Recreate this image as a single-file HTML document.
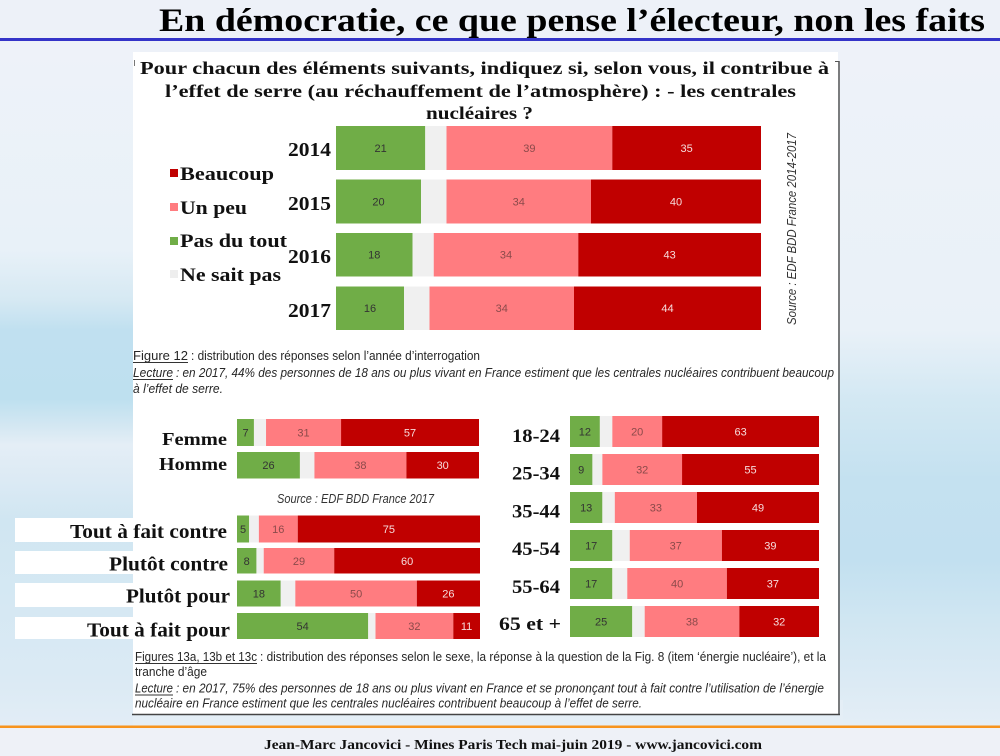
<!DOCTYPE html>
<html>
<head>
<meta charset="utf-8">
<style>
html,body{margin:0;padding:0;width:1000px;height:756px;overflow:hidden;background:#edf1f8}
svg{display:block}
.s{font-family:"Liberation Serif",serif;font-weight:bold;fill:#111}
.c{font-family:"Liberation Sans",sans-serif;fill:#262626}
.i{font-style:italic}
.n{font-family:"Liberation Sans",sans-serif;font-size:11px;text-anchor:middle}
.g{fill:#333}.p{fill:#8b4a4a}.r{fill:#f6dcdc}
</style>
</head>
<body>
<svg width="1000" height="756" viewBox="0 0 1000 756" xmlns="http://www.w3.org/2000/svg">
<defs>
<linearGradient id="lg" gradientUnits="userSpaceOnUse" x1="0" y1="42" x2="0" y2="726">
<stop offset="0" stop-color="#eef2f9"/>
<stop offset="0.304" stop-color="#e8f1f8"/>
<stop offset="0.377" stop-color="#d6e9f3"/>
<stop offset="0.421" stop-color="#c0e0f0"/>
<stop offset="0.523" stop-color="#bee0ef"/>
<stop offset="0.56" stop-color="#d3e7f2"/>
<stop offset="0.589" stop-color="#e4eef6"/>
<stop offset="0.64" stop-color="#dceaf4"/>
<stop offset="0.699" stop-color="#d0e6f2"/>
<stop offset="0.816" stop-color="#d5e8f3"/>
<stop offset="0.933" stop-color="#dbeaf4"/>
<stop offset="1" stop-color="#e2edf6"/>
</linearGradient>
<linearGradient id="rg" gradientUnits="userSpaceOnUse" x1="0" y1="42" x2="0" y2="726">
<stop offset="0" stop-color="#eef2f9"/>
<stop offset="0.421" stop-color="#e9f1f8"/>
<stop offset="0.523" stop-color="#d3e8f3"/>
<stop offset="0.64" stop-color="#c4e1f0"/>
<stop offset="0.757" stop-color="#c2e0f0"/>
<stop offset="0.845" stop-color="#d0e6f2"/>
<stop offset="0.933" stop-color="#dbeaf4"/>
<stop offset="1" stop-color="#e4eef6"/>
</linearGradient>
</defs>

<!-- background -->
<rect x="0" y="0" width="1000" height="756" fill="#edf1f8"/>
<rect x="0" y="42" width="140" height="684" fill="url(#lg)"/>
<rect x="830" y="42" width="170" height="684" fill="url(#rg)"/>
<rect x="133" y="700" width="710" height="26" fill="#e4eef6"/>

<!-- header -->
<text class="s" x="159" y="31" font-size="33" textLength="826" lengthAdjust="spacingAndGlyphs" style="fill:#000">En démocratie, ce que pense l’électeur, non les faits</text>
<rect x="0" y="38" width="1000" height="3" fill="#3434c8"/>

<!-- white panel -->
<rect x="133" y="52" width="705" height="662" fill="#ffffff"/>
<line x1="839" y1="61" x2="839" y2="715" stroke="#555" stroke-width="1.5"/>
<line x1="835" y1="61.5" x2="839.5" y2="61.5" stroke="#555" stroke-width="1"/>
<line x1="132" y1="714.5" x2="840" y2="714.5" stroke="#444" stroke-width="1.6"/>
<line x1="134.5" y1="60" x2="134.5" y2="66" stroke="#777" stroke-width="1"/>

<!-- question -->
<text class="s" x="140" y="74" font-size="18" textLength="689" lengthAdjust="spacingAndGlyphs">Pour chacun des éléments suivants, indiquez si, selon vous, il contribue à</text>
<text class="s" x="165" y="97" font-size="18" textLength="631" lengthAdjust="spacingAndGlyphs">l’effet de serre (au réchauffement de l’atmosphère) : - les centrales</text>
<text class="s" x="426" y="119" font-size="18" textLength="107" lengthAdjust="spacingAndGlyphs">nucléaires ?</text>

<!-- legend -->
<rect x="170" y="169" width="8" height="8" fill="#c00000"/>
<text class="s" x="180" y="180" font-size="19" textLength="94" lengthAdjust="spacingAndGlyphs">Beaucoup</text>
<rect x="170" y="203" width="8" height="8" fill="#ff7c80"/>
<text class="s" x="180" y="214" font-size="19" textLength="67" lengthAdjust="spacingAndGlyphs">Un peu</text>
<rect x="170" y="237" width="8" height="8" fill="#70ad47"/>
<text class="s" x="180" y="247" font-size="19" textLength="107" lengthAdjust="spacingAndGlyphs">Pas du tout</text>
<rect x="170" y="270" width="8" height="8" fill="#eeeeee"/>
<text class="s" x="180" y="281" font-size="19" textLength="101" lengthAdjust="spacingAndGlyphs">Ne sait pas</text>

<!-- years -->
<text class="s" x="288" y="156" font-size="20" textLength="43" lengthAdjust="spacingAndGlyphs">2014</text>
<text class="s" x="288" y="210" font-size="20" textLength="43" lengthAdjust="spacingAndGlyphs">2015</text>
<text class="s" x="288" y="263" font-size="20" textLength="43" lengthAdjust="spacingAndGlyphs">2016</text>
<text class="s" x="288" y="317" font-size="20" textLength="43" lengthAdjust="spacingAndGlyphs">2017</text>

<!-- top bars -->
<g>
<rect x="336" y="126" width="89.25" height="44" fill="#70ad47"/>
<rect x="425.25" y="126" width="21.25" height="44" fill="#f0f0f0"/>
<rect x="446.5" y="126" width="165.75" height="44" fill="#ff7c80"/>
<rect x="612.25" y="126" width="148.75" height="44" fill="#c00000"/>
<text class="n g" x="380.6" y="152">21</text>
<text class="n p" x="529.4" y="152">39</text>
<text class="n r" x="686.6" y="152">35</text>

<rect x="336" y="179.5" width="85" height="44" fill="#70ad47"/>
<rect x="421" y="179.5" width="25.5" height="44" fill="#f0f0f0"/>
<rect x="446.5" y="179.5" width="144.5" height="44" fill="#ff7c80"/>
<rect x="591" y="179.5" width="170" height="44" fill="#c00000"/>
<text class="n g" x="378.5" y="205.5">20</text>
<text class="n p" x="518.75" y="205.5">34</text>
<text class="n r" x="676" y="205.5">40</text>

<rect x="336" y="233" width="76.5" height="43.5" fill="#70ad47"/>
<rect x="412.5" y="233" width="21.25" height="43.5" fill="#f0f0f0"/>
<rect x="433.75" y="233" width="144.5" height="43.5" fill="#ff7c80"/>
<rect x="578.25" y="233" width="182.75" height="43.5" fill="#c00000"/>
<text class="n g" x="374.25" y="258.5">18</text>
<text class="n p" x="506" y="258.5">34</text>
<text class="n r" x="669.6" y="258.5">43</text>

<rect x="336" y="286.5" width="68" height="43.5" fill="#70ad47"/>
<rect x="404" y="286.5" width="25.5" height="43.5" fill="#f0f0f0"/>
<rect x="429.5" y="286.5" width="144.5" height="43.5" fill="#ff7c80"/>
<rect x="574" y="286.5" width="187" height="43.5" fill="#c00000"/>
<text class="n g" x="370" y="312">16</text>
<text class="n p" x="501.75" y="312">34</text>
<text class="n r" x="667.5" y="312">44</text>
</g>

<!-- vertical source -->
<text class="c i" transform="translate(796,325) rotate(-90)" x="0" y="0" font-size="12.5" textLength="192" lengthAdjust="spacingAndGlyphs" style="fill:#333">Source : EDF BDD France 2014-2017</text>

<!-- Fig 12 caption -->
<text class="c" x="133" y="360" font-size="13" textLength="55" lengthAdjust="spacingAndGlyphs">Figure 12</text>
<line x1="133" y1="362.5" x2="188" y2="362.5" stroke="#333" stroke-width="0.9"/>
<text class="c" x="191" y="360" font-size="13" textLength="289" lengthAdjust="spacingAndGlyphs">: distribution des réponses selon l’année d’interrogation</text>
<text class="c i" x="133" y="377" font-size="13" textLength="40" lengthAdjust="spacingAndGlyphs">Lecture</text>
<line x1="133" y1="379.5" x2="173" y2="379.5" stroke="#333" stroke-width="0.9"/>
<text class="c i" x="176" y="377" font-size="13" textLength="658" lengthAdjust="spacingAndGlyphs">: en 2017, 44% des personnes de 18 ans ou plus vivant en France estiment que les centrales nucléaires contribuent beaucoup</text>
<text class="c i" x="133" y="393" font-size="13" textLength="90" lengthAdjust="spacingAndGlyphs">à l’effet de serre.</text>

<!-- Femme / Homme -->
<text class="s" x="162" y="445" font-size="18" textLength="65" lengthAdjust="spacingAndGlyphs">Femme</text>
<text class="s" x="159" y="470" font-size="18" textLength="68" lengthAdjust="spacingAndGlyphs">Homme</text>

<rect x="237" y="419" width="16.94" height="27" fill="#70ad47"/>
<rect x="253.94" y="419" width="12.1" height="27" fill="#f0f0f0"/>
<rect x="266.04" y="419" width="75.02" height="27" fill="#ff7c80"/>
<rect x="341.06" y="419" width="137.94" height="27" fill="#c00000"/>
<text class="n g" x="245.5" y="436.5">7</text>
<text class="n p" x="303.5" y="436.5">31</text>
<text class="n r" x="410" y="436.5">57</text>

<rect x="237" y="452" width="62.92" height="26.5" fill="#70ad47"/>
<rect x="299.92" y="452" width="14.52" height="26.5" fill="#f0f0f0"/>
<rect x="314.44" y="452" width="91.96" height="26.5" fill="#ff7c80"/>
<rect x="406.4" y="452" width="72.6" height="26.5" fill="#c00000"/>
<text class="n g" x="268.5" y="469">26</text>
<text class="n p" x="360.4" y="469">38</text>
<text class="n r" x="442.7" y="469">30</text>

<text class="c i" x="277" y="503" font-size="12.5" textLength="157" lengthAdjust="spacingAndGlyphs" style="fill:#333">Source : EDF BDD France 2017</text>

<!-- attitude label boxes -->
<rect x="15" y="518" width="218" height="24" fill="#ffffff"/>
<rect x="15" y="551" width="218" height="23" fill="#ffffff"/>
<rect x="15" y="583" width="218" height="24" fill="#ffffff"/>
<rect x="15" y="617" width="218" height="22" fill="#ffffff"/>
<text class="s" x="70" y="538" font-size="20" textLength="157" lengthAdjust="spacingAndGlyphs">Tout à fait contre</text>
<text class="s" x="109" y="570.5" font-size="20" textLength="119" lengthAdjust="spacingAndGlyphs">Plutôt contre</text>
<text class="s" x="126" y="602.5" font-size="20" textLength="104" lengthAdjust="spacingAndGlyphs">Plutôt pour</text>
<text class="s" x="87" y="636.5" font-size="20" textLength="143" lengthAdjust="spacingAndGlyphs">Tout à fait pour</text>

<!-- attitude bars -->
<rect x="237" y="515.5" width="12.15" height="27" fill="#70ad47"/>
<rect x="249.15" y="515.5" width="9.72" height="27" fill="#f0f0f0"/>
<rect x="258.87" y="515.5" width="38.88" height="27" fill="#ff7c80"/>
<rect x="297.75" y="515.5" width="182.25" height="27" fill="#c00000"/>
<text class="n g" x="243.1" y="533">5</text>
<text class="n p" x="278.3" y="533">16</text>
<text class="n r" x="388.9" y="533">75</text>

<rect x="237" y="548" width="19.44" height="25.5" fill="#70ad47"/>
<rect x="256.44" y="548" width="7.29" height="25.5" fill="#f0f0f0"/>
<rect x="263.73" y="548" width="70.47" height="25.5" fill="#ff7c80"/>
<rect x="334.2" y="548" width="145.8" height="25.5" fill="#c00000"/>
<text class="n g" x="246.7" y="564.75">8</text>
<text class="n p" x="299" y="564.75">29</text>
<text class="n r" x="407.1" y="564.75">60</text>

<rect x="237" y="580.5" width="43.74" height="26" fill="#70ad47"/>
<rect x="280.74" y="580.5" width="14.58" height="26" fill="#f0f0f0"/>
<rect x="295.32" y="580.5" width="121.5" height="26" fill="#ff7c80"/>
<rect x="416.82" y="580.5" width="63.18" height="26" fill="#c00000"/>
<text class="n g" x="258.9" y="597.5">18</text>
<text class="n p" x="356.1" y="597.5">50</text>
<text class="n r" x="448.4" y="597.5">26</text>

<rect x="237" y="613" width="131.22" height="26" fill="#70ad47"/>
<rect x="368.22" y="613" width="7.29" height="26" fill="#f0f0f0"/>
<rect x="375.51" y="613" width="77.76" height="26" fill="#ff7c80"/>
<rect x="453.27" y="613" width="26.73" height="26" fill="#c00000"/>
<text class="n g" x="302.6" y="630">54</text>
<text class="n p" x="414.4" y="630">32</text>
<text class="n r" x="466.6" y="630">11</text>

<!-- age labels -->
<text class="s" x="512" y="442" font-size="19" textLength="48" lengthAdjust="spacingAndGlyphs">18-24</text>
<text class="s" x="512" y="479.5" font-size="19" textLength="48" lengthAdjust="spacingAndGlyphs">25-34</text>
<text class="s" x="512" y="517.5" font-size="19" textLength="48" lengthAdjust="spacingAndGlyphs">35-44</text>
<text class="s" x="512" y="555" font-size="19" textLength="48" lengthAdjust="spacingAndGlyphs">45-54</text>
<text class="s" x="512" y="593" font-size="19" textLength="48" lengthAdjust="spacingAndGlyphs">55-64</text>
<text class="s" x="499" y="630" font-size="19" textLength="62" lengthAdjust="spacingAndGlyphs">65 et +</text>

<!-- age bars -->
<rect x="570" y="416" width="29.88" height="31" fill="#70ad47"/>
<rect x="599.88" y="416" width="12.45" height="31" fill="#f0f0f0"/>
<rect x="612.33" y="416" width="49.8" height="31" fill="#ff7c80"/>
<rect x="662.13" y="416" width="156.87" height="31" fill="#c00000"/>
<text class="n g" x="584.9" y="435.5">12</text>
<text class="n p" x="637.2" y="435.5">20</text>
<text class="n r" x="740.6" y="435.5">63</text>

<rect x="570" y="454" width="22.41" height="31" fill="#70ad47"/>
<rect x="592.41" y="454" width="9.96" height="31" fill="#f0f0f0"/>
<rect x="602.37" y="454" width="79.68" height="31" fill="#ff7c80"/>
<rect x="682.05" y="454" width="136.95" height="31" fill="#c00000"/>
<text class="n g" x="581.2" y="473.5">9</text>
<text class="n p" x="642.2" y="473.5">32</text>
<text class="n r" x="750.5" y="473.5">55</text>

<rect x="570" y="492" width="32.37" height="31" fill="#70ad47"/>
<rect x="602.37" y="492" width="12.45" height="31" fill="#f0f0f0"/>
<rect x="614.82" y="492" width="82.18" height="31" fill="#ff7c80"/>
<rect x="697" y="492" width="122" height="31" fill="#c00000"/>
<text class="n g" x="586.2" y="511.5">13</text>
<text class="n p" x="655.9" y="511.5">33</text>
<text class="n r" x="758" y="511.5">49</text>

<rect x="570" y="530" width="42.33" height="31" fill="#70ad47"/>
<rect x="612.33" y="530" width="17.43" height="31" fill="#f0f0f0"/>
<rect x="629.76" y="530" width="92.13" height="31" fill="#ff7c80"/>
<rect x="721.89" y="530" width="97.11" height="31" fill="#c00000"/>
<text class="n g" x="591.2" y="549.5">17</text>
<text class="n p" x="675.8" y="549.5">37</text>
<text class="n r" x="770.4" y="549.5">39</text>

<rect x="570" y="568" width="42.33" height="31" fill="#70ad47"/>
<rect x="612.33" y="568" width="14.94" height="31" fill="#f0f0f0"/>
<rect x="627.27" y="568" width="99.6" height="31" fill="#ff7c80"/>
<rect x="726.87" y="568" width="92.13" height="31" fill="#c00000"/>
<text class="n g" x="591.2" y="587.5">17</text>
<text class="n p" x="677.1" y="587.5">40</text>
<text class="n r" x="772.9" y="587.5">37</text>

<rect x="570" y="606" width="62.25" height="31" fill="#70ad47"/>
<rect x="632.25" y="606" width="12.45" height="31" fill="#f0f0f0"/>
<rect x="644.7" y="606" width="94.62" height="31" fill="#ff7c80"/>
<rect x="739.32" y="606" width="79.68" height="31" fill="#c00000"/>
<text class="n g" x="601.1" y="625.5">25</text>
<text class="n p" x="692" y="625.5">38</text>
<text class="n r" x="779.2" y="625.5">32</text>

<!-- bottom caption -->
<text class="c" x="135" y="661" font-size="13" textLength="122" lengthAdjust="spacingAndGlyphs">Figures 13a, 13b et 13c</text>
<line x1="135" y1="663.5" x2="257" y2="663.5" stroke="#333" stroke-width="0.9"/>
<text class="c" x="260" y="661" font-size="13" textLength="566" lengthAdjust="spacingAndGlyphs">: distribution des réponses selon le sexe, la réponse à la question de la Fig. 8 (item ‘énergie nucléaire’), et la</text>
<text class="c" x="135" y="676" font-size="13" textLength="72" lengthAdjust="spacingAndGlyphs">tranche d’âge</text>
<text class="c i" x="135" y="692.5" font-size="13" textLength="38" lengthAdjust="spacingAndGlyphs">Lecture</text>
<line x1="135" y1="695" x2="173" y2="695" stroke="#333" stroke-width="0.9"/>
<text class="c i" x="176" y="692.5" font-size="13" textLength="648" lengthAdjust="spacingAndGlyphs">: en 2017, 75% des personnes de 18 ans ou plus vivant en France et se prononçant tout à fait contre l’utilisation de l’énergie</text>
<text class="c i" x="135" y="707.5" font-size="13" textLength="507" lengthAdjust="spacingAndGlyphs">nucléaire en France estiment que les centrales nucléaires contribuent beaucoup à l’effet de serre.</text>

<!-- footer -->
<rect x="0" y="728" width="1000" height="28" fill="#eef1f7"/>
<rect x="0" y="725.5" width="1000" height="2.5" fill="#f7941d"/>
<text class="s" x="264" y="749" font-size="14" textLength="498" lengthAdjust="spacingAndGlyphs">Jean-Marc Jancovici - Mines Paris Tech mai-juin 2019 - www.jancovici.com</text>
</svg>
</body>
</html>
